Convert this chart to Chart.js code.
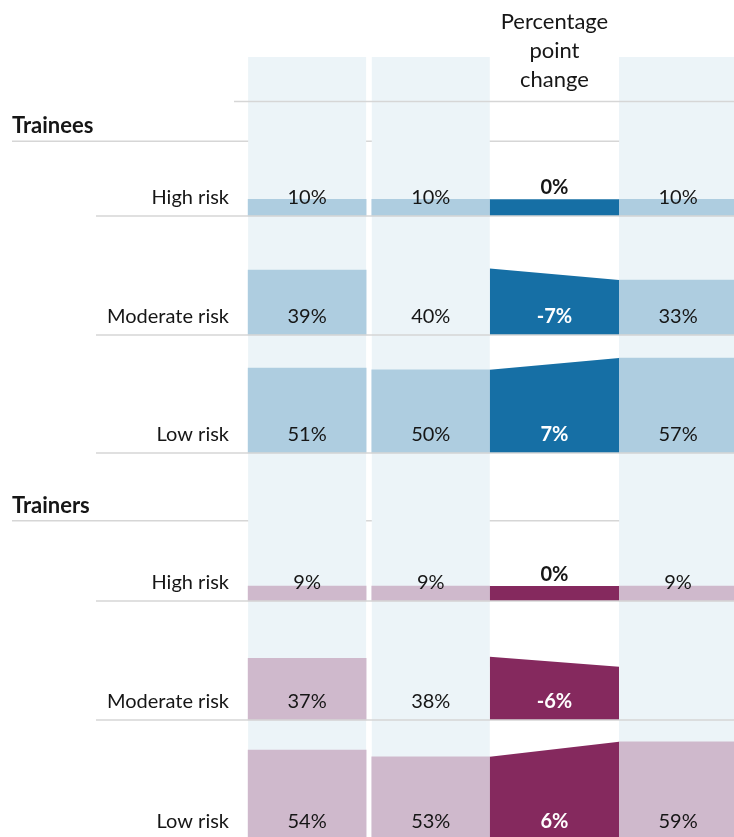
<!DOCTYPE html>
<html>
<head>
<meta charset="utf-8">
<script src="https://cdn.jsdelivr.net/npm/chart.js@4.4.1/dist/chart.umd.min.js"></script>
<style>
  html, body { margin: 0; padding: 0; background: #fff; overflow: hidden; }
  #wrap { width: 760px; height: 850px; }
</style>
</head>
<body>
<div id="wrap"><canvas id="risk-chart" width="760" height="850"></canvas></div>
<script>
const rowLabels = ['High risk', 'Moderate risk', 'Low risk'];
const groupLabels = ['Trainees', 'Trainers'];
const changeTitle = ['Percentage', 'point', 'change'];

// bar heights as drawn in the original (null = no bar shown)
const traineesFirstBars = [10, 39, 51];
const traineesSecondBars = [10, null, 50];
const traineesLatestBars = [10, 33, 57];
// printed values
const traineesFirstText = [10, 39, 51];
const traineesSecondText = [10, 40, 50];
const traineesLatestText = [10, 33, 57];
// change wedge, second -> latest
const traineesChangeFrom = [10, 40, 50];
const traineesChangeTo = [10, 33, 57];
const traineesChangeText = [0, -7, 7];

const trainersFirstBars = [9, 37, 54];
const trainersSecondBars = [9, null, 50];
const trainersLatestBars = [9, null, 59];
const trainersFirstText = [9, 37, 54];
const trainersSecondText = [9, 38, 53];
const trainersLatestText = [9, null, 59];
const trainersChangeFrom = [9, 38, 50];
const trainersChangeTo = [9, 32, 59];
const trainersChangeText = [0, -6, 6];

// layout
const W = 760, H = 850;
const PX = 1.665;            // pixels per percentage point
const COL_W = 118;
const PAD_L = 245.3, PAD_R = 20.1;
const traineesBase = [216, 335, 453];
const trainersBase = [601, 720, 840];
const groupRule = [141.3, 520.7];
const topRule = 101.5;
const shadeTop = 57;

const traineesLight = '#aecde0', traineesDark = '#166fa5';
const trainersLight = '#cfb9cc', trainersDark = '#85295e';
const shade = '#ecf4f8';
const ruleColor = '#d6d6d6';
const textColor = '#161616';
const FONT = 'Lato, "Open Sans", sans-serif';

// one column step on the x scale, in pixels
const STEP = (W - PAD_L - PAD_R) / 4;
const HALF = COL_W / 2 / STEP;   // half a bar, in x units

function units(px) { return (H - px) / PX; }

function barDataset(values, col, bases, color) {
    return {
        type: 'bar',
        data: values.map((v, i) => v == null ? null : { x: col, y: [units(bases[i]), units(bases[i]) + v] })
                    .filter(d => d !== null),
        backgroundColor: color,
        barThickness: COL_W,
        grouped: false,
        order: 2
    };
}

// wedge fills the gap between the second and the latest column
function wedgeDatasets(from, to, bases, color) {
    return from.map((f, i) => {
        const b = units(bases[i]);
        return {
            type: 'line',
            data: [{ x: 1 + HALF, y: b + f }, { x: 3 - HALF, y: b + to[i] }],
            fill: { value: b },
            backgroundColor: color,
            borderWidth: 0,
            pointRadius: 0,
            tension: 0,
            order: 1
        };
    });
}

const datasets = [
    barDataset(traineesFirstBars, 0, traineesBase, traineesLight),
    barDataset(traineesSecondBars, 1, traineesBase, traineesLight),
    barDataset(traineesLatestBars, 3, traineesBase, traineesLight),
    barDataset(trainersFirstBars, 0, trainersBase, trainersLight),
    barDataset(trainersSecondBars, 1, trainersBase, trainersLight),
    barDataset(trainersLatestBars, 3, trainersBase, trainersLight),
    ...wedgeDatasets(traineesChangeFrom, traineesChangeTo, traineesBase, traineesDark),
    ...wedgeDatasets(trainersChangeFrom, trainersChangeTo, trainersBase, trainersDark)
];

const groups = [
    { base: traineesBase, texts: [traineesFirstText, traineesSecondText, traineesLatestText], change: traineesChangeText, from: traineesChangeFrom },
    { base: trainersBase, texts: [trainersFirstText, trainersSecondText, trainersLatestText], change: trainersChangeText, from: trainersChangeFrom }
];

function hline(ctx, x0, x1, y) {
    ctx.beginPath();
    ctx.moveTo(x0, y);
    ctx.lineTo(x1, y);
    ctx.stroke();
}

const decorPlugin = {
    id: 'decor',
    beforeDatasetsDraw(chart) {
        const { ctx } = chart;
        const x = chart.scales.x;
        ctx.save();
        // group rules sit under the shaded columns
        ctx.strokeStyle = ruleColor;
        ctx.lineWidth = 1.5;
        groupRule.forEach(y => hline(ctx, 12, W, y));
        ctx.fillStyle = shade;
        [0, 1, 3].forEach(i => {
            const cx = x.getPixelForValue(i);
            ctx.fillRect(cx - COL_W / 2, shadeTop, COL_W, H - shadeTop);
        });
        ctx.restore();
    },
    afterDatasetsDraw(chart) {
        const { ctx } = chart;
        const x = chart.scales.x;
        ctx.save();
        ctx.strokeStyle = ruleColor;
        ctx.lineWidth = 1.5;
        hline(ctx, 234, W, topRule);
        groups.forEach(g => g.base.forEach(b => hline(ctx, 96, W, b)));

        // header of change column
        ctx.fillStyle = textColor;
        ctx.textAlign = 'center';
        ctx.textBaseline = 'alphabetic';
        ctx.font = '22px ' + FONT;
        changeTitle.forEach((t, i) => ctx.fillText(t, x.getPixelForValue(2), 29 + i * 29));

        groups.forEach((g, gi) => {
            ctx.textAlign = 'left';
            ctx.fillStyle = textColor;
            ctx.font = 'bold 22px ' + FONT;
            ctx.fillText(groupLabels[gi], 12, groupRule[gi] - 8);

            g.base.forEach((b, r) => {
                ctx.font = '20px ' + FONT;
                ctx.fillStyle = textColor;
                ctx.textAlign = 'right';
                ctx.fillText(rowLabels[r], 229, b - 12);
                ctx.textAlign = 'center';
                [0, 1, 3].forEach((col, k) => {
                    const v = g.texts[k][r];
                    if (v != null) ctx.fillText(v + '%', x.getPixelForValue(col), b - 12);
                });
                const c = g.change[r];
                ctx.font = 'bold 20px ' + FONT;
                if (c === 0) {
                    ctx.fillStyle = textColor;
                    ctx.fillText(c + '%', x.getPixelForValue(2), b - g.from[r] * PX - 5);
                } else {
                    ctx.fillStyle = '#ffffff';
                    ctx.fillText(c + '%', x.getPixelForValue(2), b - 12);
                }
            });
        });
        ctx.restore();
    }
};

new Chart(document.getElementById('risk-chart'), {
    type: 'bar',
    data: { datasets: datasets },
    options: {
        responsive: false,
        animation: false,
        layout: { padding: { left: PAD_L, right: PAD_R, top: 0, bottom: 0 } },
        scales: {
            x: { type: 'linear', min: -0.5, max: 3.5, offset: false, display: false },
            y: { type: 'linear', min: 0, max: H / PX, display: false }
        },
        plugins: {
            legend: { display: false },
            tooltip: { enabled: false }
        }
    },
    plugins: [decorPlugin]
});
</script>
</body>
</html>
